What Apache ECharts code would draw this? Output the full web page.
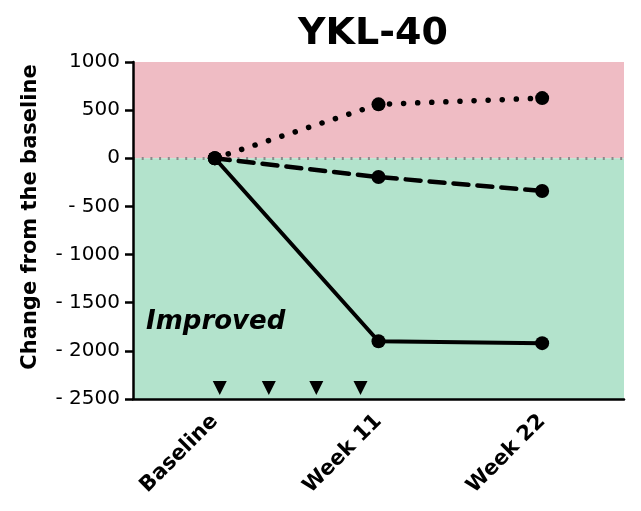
<!DOCTYPE html>
<html>
<head>
<meta charset="utf-8">
<script src="https://cdn.jsdelivr.net/npm/echarts@6/dist/echarts.min.js"></script>
<style>
  html, body { margin: 0; padding: 0; background: #fff; }
  #chart { width: 641px; height: 511px; }
</style>
</head>
<body>
<div id="chart"></div>
<script>
const categories = ["Baseline", "Week 11", "Week 22"];
const solidVals = [0, -1900, -1920];
const dashedVals = [0, -195, -340];
const dottedVals = [0, 560, 625];
// dose markers (x in category units, -0.5..2.5)
const doseX = [0.03, 0.33, 0.62, 0.89];
const doseLevel = -2385;
const yTicks = { min: -2500, max: 1000, step: 500 };

const chart = echarts.init(document.getElementById("chart"));
const font = "'DejaVu Sans', sans-serif";

const lineSeries = (name, data, type, width) => ({
  name,
  type: "line",
  data,
  symbol: "circle",
  symbolSize: 14,
  itemStyle: { color: "#000" },
  lineStyle: { color: "#000", width, type, cap: "round" },
  z: 5,
});

chart.setOption({
  animation: false,
  title: {
    text: "YKL-40",
    left: 368,
    top: 10,
    textAlign: "center",
    textStyle: { fontFamily: font, fontSize: 38, fontWeight: "bold", color: "#000" },
  },
  grid: { left: 133, right: 17, top: 62, bottom: 112 },
  xAxis: [
    {
      type: "category",
      data: categories,
      z: 10,
      axisLine: { onZero: false, lineStyle: { color: "#000", width: 2.5 } },
      axisTick: { alignWithLabel: true, length: 7, lineStyle: { color: "#000", width: 2.5 } },
      axisLabel: {
        rotate: 45,
        margin: 19,
        fontFamily: font,
        fontSize: 21,
        fontWeight: "bold",
        color: "#000",
      },
    },
    { type: "value", min: -0.5, max: 2.5, show: false },
  ],
  yAxis: {
    type: "value",
    min: yTicks.min,
    max: yTicks.max,
    interval: yTicks.step,
    z: 10,
    axisLine: { show: true, onZero: false, lineStyle: { color: "#000", width: 2.5 } },
    axisTick: { show: true, length: 8, lineStyle: { color: "#000", width: 2.5 } },
    splitLine: { show: false },
    axisLabel: {
      margin: 13,
      fontFamily: font,
      fontSize: 20,
      color: "#000",
      formatter: (v) => (v < 0 ? "- " + Math.abs(v) : String(v)),
    },
  },
  graphic: [
    {
      type: "text",
      x: 31,
      y: 217,
      rotation: Math.PI / 2,
      z: 20,
      style: {
        text: "Change from the baseline",
        font: "bold 21px " + font,
        fill: "#000",
        align: "center",
        verticalAlign: "middle",
      },
    },
    {
      type: "text",
      x: 146,
      y: 322,
      z: 20,
      style: {
        text: "Improved",
        font: "italic bold 26px " + font,
        fill: "#000",
        align: "left",
        verticalAlign: "middle",
      },
    },
  ],
  series: [
    {
      type: "line",
      data: [],
      silent: true,
      markArea: {
        silent: true,
        data: [
          [{ yAxis: 0, itemStyle: { color: "#efbcc4" } }, { yAxis: 1000 }],
          [{ yAxis: -2500, itemStyle: { color: "#b3e3cc" } }, { yAxis: 0 }],
        ],
      },
      markLine: {
        silent: true,
        symbol: "none",
        label: { show: false },
        lineStyle: { color: "#8a8a8a", width: 3, type: [2, 6.7] },
        data: [{ yAxis: 0 }],
      },
      z: 1,
    },
    lineSeries("dotted", dottedVals, [0.1, 14], 5.5),
    lineSeries("dashed", dashedVals, [15, 9], 4.5),
    lineSeries("solid", solidVals, "solid", 4),
    {
      type: "scatter",
      xAxisIndex: 1,
      data: doseX.map((x) => [x, doseLevel]),
      symbol: "triangle",
      symbolRotate: 180,
      symbolSize: [14, 14],
      itemStyle: { color: "#000", opacity: 1 },
      z: 6,
    },
  ],
});
</script>
</body>
</html>
